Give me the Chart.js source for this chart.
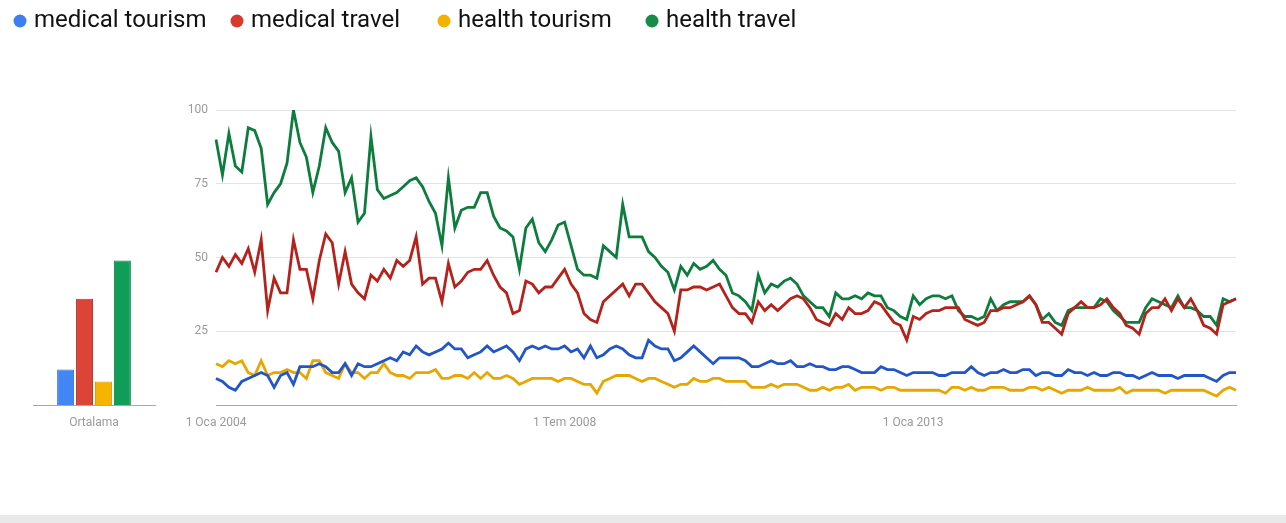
<!DOCTYPE html>
<html>
<head>
<meta charset="utf-8">
<title>Google Trends - medical / health tourism</title>
<script src="https://cdn.jsdelivr.net/npm/chart.js@4.4.1/dist/chart.umd.min.js"></script>
<style>
  html, body { margin: 0; padding: 0; background: #fff; }
  #wrap { position: relative; width: 1286px; height: 523px; overflow: hidden; background: #fff; }
  #lineChart, #barChart { position: absolute; top: 0; left: 0; }
  #edge { position: absolute; left: 0; top: 515px; width: 1286px; height: 8px; background: #e9e9e9; }
</style>
</head>
<body>
<div id="wrap">
  <canvas id="lineChart" width="1286" height="523"></canvas>
  <canvas id="barChart" width="200" height="523"></canvas>
  <div id="edge"></div>
</div>
<script>
"use strict";

// ---- data (monthly, Jan 2004 - Mar 2017) ----
const seriesNames = ["medical tourism", "medical travel", "health tourism", "health travel"];

const medicalTourism = [
  9, 8, 6, 5, 8, 9, 10, 11, 10, 6, 10, 11,
  7, 13, 13, 13, 14, 13, 11, 11, 14, 10, 14, 13,
  13, 14, 15, 16, 15, 18, 17, 20, 18, 17, 18, 19,
  21, 19, 19, 16, 17, 18, 20, 18, 19, 20, 18, 15,
  19, 20, 19, 20, 19, 19, 20, 18, 19, 16, 20, 16,
  17, 19, 20, 19, 17, 16, 16, 22, 20, 19, 19, 15,
  16, 18, 20, 18, 16, 14, 16, 16, 16, 16, 15, 13,
  13, 14, 15, 14, 14, 15, 13, 13, 14, 13, 13, 12,
  12, 13, 13, 12, 11, 11, 11, 13, 12, 12, 11, 10,
  11, 11, 11, 11, 10, 10, 11, 11, 11, 13, 11, 10,
  11, 11, 12, 11, 11, 12, 12, 10, 11, 11, 10, 10,
  12, 11, 11, 10, 11, 10, 10, 11, 11, 10, 10, 9,
  10, 11, 10, 10, 10, 9, 10, 10, 10, 10, 9, 8,
  10, 11, 11
];

const medicalTravel = [
  45, 50, 47, 51, 48, 53, 45, 56, 32, 43, 38, 38,
  56, 46, 46, 36, 49, 58, 55, 41, 52, 41, 38, 36,
  44, 42, 46, 43, 49, 47, 49, 57, 41, 43, 43, 35,
  48, 40, 42, 45, 46, 46, 49, 44, 40, 38, 31, 32,
  42, 41, 38, 40, 40, 43, 46, 41, 38, 31, 29, 28,
  35, 37, 39, 41, 37, 41, 41, 38, 35, 33, 31, 25,
  39, 39, 40, 40, 39, 40, 41, 37, 33, 31, 31, 28,
  35, 32, 34, 32, 34, 36, 37, 36, 33, 29, 28, 27,
  31, 29, 33, 31, 31, 32, 35, 34, 31, 28, 27, 22,
  30, 29, 31, 32, 32, 33, 33, 33, 29, 28, 27, 28,
  32, 32, 33, 33, 34, 35, 37, 34, 28, 28, 26, 24,
  31, 33, 35, 33, 33, 34, 36, 33, 31, 27, 26, 24,
  31, 33, 33, 36, 32, 36, 33, 36, 32, 27, 26, 24,
  34, 35, 36
];

const healthTourism = [
  14, 13, 15, 14, 15, 11, 10, 15, 10, 11, 11, 12,
  11, 11, 9, 15, 15, 11, 10, 9, 14, 11, 11, 9,
  11, 11, 14, 11, 10, 10, 9, 11, 11, 11, 12, 9,
  9, 10, 10, 9, 11, 9, 11, 9, 9, 10, 9, 7,
  8, 9, 9, 9, 9, 8, 9, 9, 8, 7, 7, 4,
  8, 9, 10, 10, 10, 9, 8, 9, 9, 8, 7, 6,
  7, 7, 9, 8, 8, 9, 9, 8, 8, 8, 8, 6,
  6, 6, 7, 6, 7, 7, 7, 6, 5, 5, 6, 5,
  6, 6, 7, 5, 6, 6, 6, 5, 6, 6, 5, 5,
  5, 5, 5, 5, 5, 4, 6, 6, 5, 6, 5, 5,
  6, 6, 6, 5, 5, 5, 6, 6, 5, 6, 5, 4,
  5, 5, 5, 6, 5, 5, 5, 5, 6, 4, 5, 5,
  5, 5, 5, 4, 5, 5, 5, 5, 5, 5, 4, 3,
  5, 6, 5
];

const healthTravel = [
  90, 78, 92, 81, 79, 94, 93, 87, 68, 72, 75, 82,
  100, 89, 84, 72, 81, 94, 89, 86, 72, 77, 62, 65,
  91, 73, 70, 71, 72, 74, 76, 77, 74, 69, 65, 54,
  77, 60, 66, 67, 67, 72, 72, 64, 60, 59, 57, 46,
  60, 63, 55, 52, 56, 61, 62, 54, 46, 44, 44, 43,
  54, 52, 50, 68, 57, 57, 57, 52, 50, 47, 45, 39,
  47, 44, 48, 46, 47, 49, 46, 44, 38, 37, 35, 32,
  44, 38, 41, 40, 42, 43, 41, 37, 35, 33, 33, 30,
  38, 36, 36, 37, 36, 38, 37, 37, 33, 32, 30, 29,
  37, 34, 36, 37, 37, 36, 37, 32, 30, 30, 29, 30,
  36, 32, 34, 35, 35, 35, 37, 34, 29, 31, 28, 27,
  32, 33, 33, 33, 33, 36, 35, 32, 30, 28, 28, 28,
  33, 36, 35, 34, 33, 37, 33, 33, 32, 30, 30, 27,
  36, 35, 36
];

// averages shown in the small bar chart
const averageLabel = ["Ortalama"];
const averages = [12, 36, 8, 49];

// x-axis tick labels and the month each one sits on
const tickLabels = ["1 Oca 2004", "1 Tem 2008", "1 Oca 2013"];
const tickMonths = ["2004-01", "2008-07", "2013-01"];

// month categories
const months = [];
for (let i = 0; i < healthTravel.length; i++) {
  const y = 2004 + Math.floor(i / 12);
  const m = (i % 12) + 1;
  months.push(y + "-" + (m < 10 ? "0" + m : m));
}

// ---- styles ----
const lineColors = ["#2256c8", "#b5221c", "#e8a700", "#0d7d3d"];
const dotColors  = ["#3d7ff0", "#d63a2f", "#f2b200", "#158c47"];
const barColors  = ["#4285f4", "#db4437", "#f4b400", "#0f9d58"];
const barEdges   = ["#2f6ad6", "#b8302a", "#d79c00", "#0b7f45"];
const grayText   = "#9a9a9a";

// legend drawn in fixed slots along the top, like the original
const topLegend = {
  id: "topLegend",
  afterDraw(chart, args, opts) {
    const ctx = chart.ctx;
    ctx.save();
    chart.data.datasets.forEach(function (ds, i) {
      const x = opts.x[i];
      ctx.beginPath();
      ctx.arc(x, opts.y, 6.5, 0, Math.PI * 2);
      ctx.fillStyle = dotColors[i];
      ctx.fill();
      ctx.font = "24px Roboto";
      ctx.fillStyle = "#111";
      ctx.textBaseline = "middle";
      ctx.fillText(ds.label, x + 14, opts.y);
    });
    ctx.restore();
  }
};

const allSeries = [medicalTourism, medicalTravel, healthTourism, healthTravel];

new Chart(document.getElementById("lineChart"), {
  type: "line",
  data: {
    labels: months,
    datasets: seriesNames.map(function (name, i) {
      return {
        label: name,
        data: allSeries[i],
        borderColor: lineColors[i],
        backgroundColor: lineColors[i],
        borderWidth: 2.8,
        pointRadius: 0,
        tension: 0,
        fill: false
      };
    })
  },
  options: {
    responsive: false,
    animation: false,
    layout: { padding: { top: 110, right: 50, left: 0, bottom: 0 } },
    plugins: {
      legend: { display: false },
      tooltip: { enabled: false },
      topLegend: { x: [20, 237, 444, 652], y: 21 }
    },
    scales: {
      x: {
        grid: { display: false },
        border: { display: true, color: "#a8a8a8", width: 1 },
        ticks: {
          autoSkip: false,
          maxRotation: 0,
          padding: 3,
          color: grayText,
          font: { family: "Roboto", size: 12 },
          callback: function (value, index) {
            const k = tickMonths.indexOf(months[index]);
            return k >= 0 ? tickLabels[k] : "";
          }
        },
        afterFit: function (scale) { scale.height = 118; }
      },
      y: {
        min: 0,
        max: 100,
        grid: { color: "#e3e3e3", drawTicks: false },
        border: { display: false },
        ticks: {
          stepSize: 25,
          padding: 8,
          color: grayText,
          font: { family: "Roboto", size: 12 },
          callback: function (v) { return v === 0 ? "" : v; }
        },
        afterFit: function (scale) { scale.width = 216; }
      }
    }
  },
  plugins: [topLegend]
});

new Chart(document.getElementById("barChart"), {
  type: "bar",
  data: {
    labels: averageLabel,
    datasets: seriesNames.map(function (name, i) {
      return {
        label: name,
        data: [averages[i]],
        backgroundColor: barColors[i],
        borderColor: barEdges[i],
        borderWidth: 1
      };
    })
  },
  options: {
    responsive: false,
    animation: false,
    datasets: { bar: { categoryPercentage: 0.62, barPercentage: 0.9 } },
    layout: { padding: { top: 110, left: 33, right: 45, bottom: 0 } },
    plugins: { legend: { display: false }, tooltip: { enabled: false } },
    scales: {
      x: {
        grid: { display: false },
        border: { display: true, color: "#a8a8a8", width: 1 },
        ticks: {
          padding: 3,
          color: grayText,
          font: { family: "Roboto", size: 12 }
        },
        afterFit: function (scale) { scale.height = 118; }
      },
      y: { display: false, min: 0, max: 100 }
    }
  }
});
</script>
</body>
</html>
